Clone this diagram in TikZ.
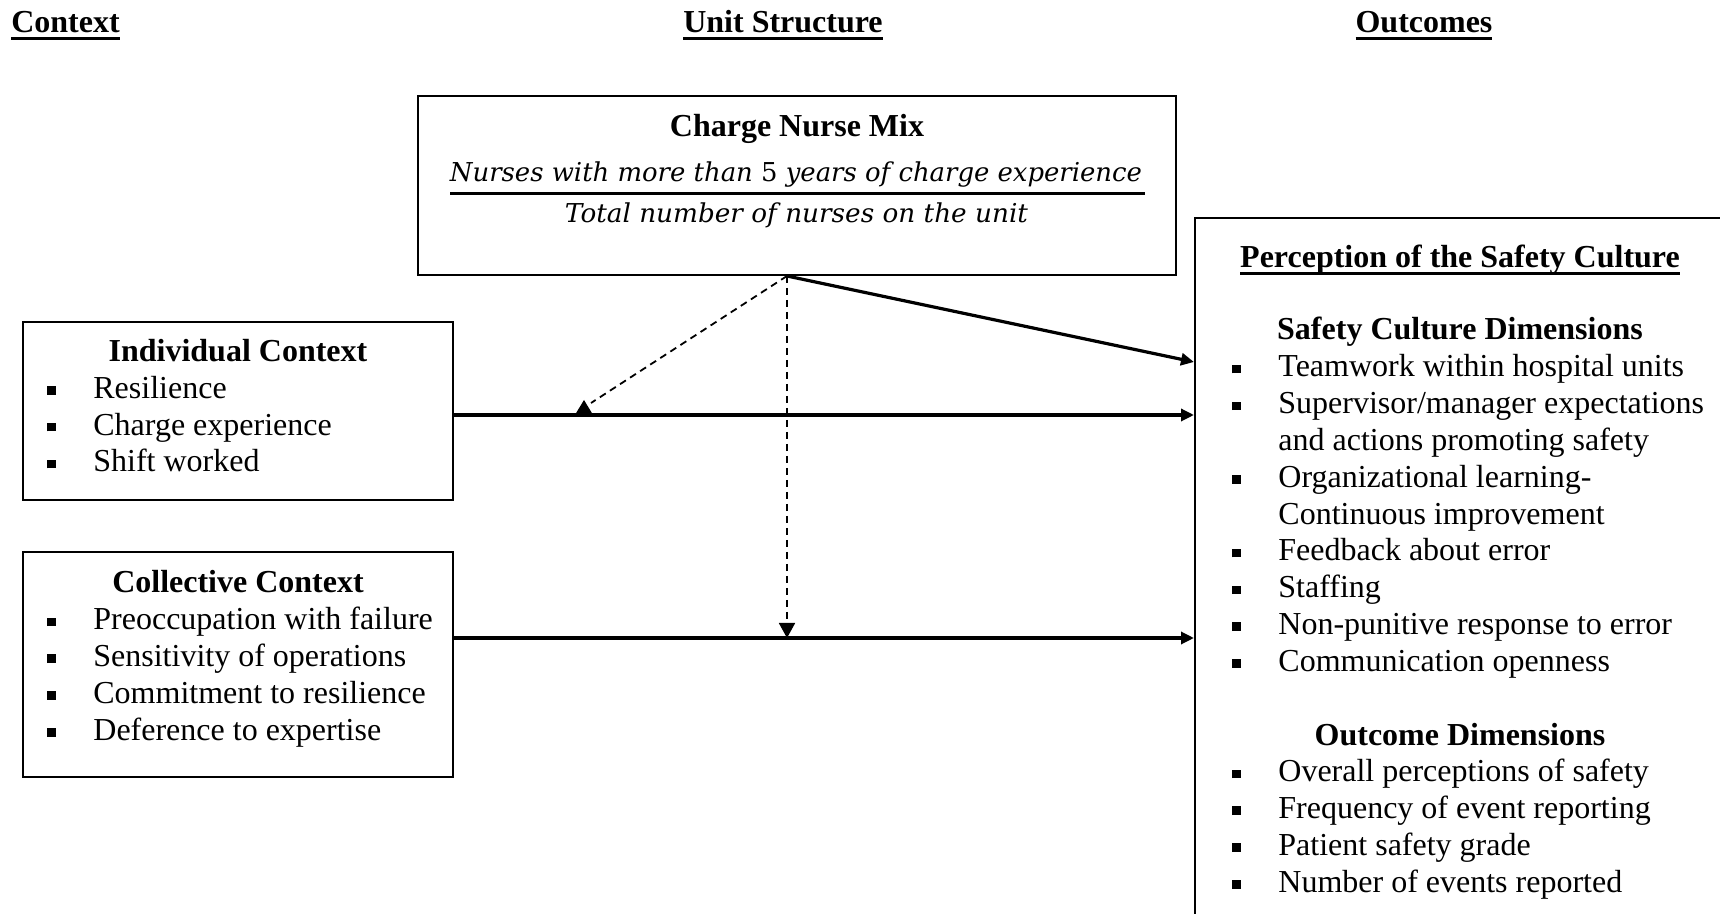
\documentclass[tikz,border=0pt]{standalone}
\usepackage{fontspec}
\setmainfont{Liberation Serif}
\newfontfamily\fracfont{DejaVu Serif}
\usetikzlibrary{arrows.meta,calc}

\newlength\px
\setlength\px{0.5pt}
\newsavebox\ulbox
% bold text with a heavy underline that ignores descenders
\newcommand\ulbold[1]{\sbox\ulbox{\bfseries #1}\rlap{\rule[-3.4pt]{\wd\ulbox}{1.5pt}}\usebox\ulbox}
% square bullet followed by the hanging indent
\newcommand\bul{\rule[1.8pt]{4.3pt}{4.3pt}\hspace{18.7pt}}
% italic fraction text, set to a given width
\newcommand\fractext[2]{\resizebox{#1}{\height}{\fracfont\fontsize{13}{15}\selectfont\itshape #2}}

\tikzset{
  box/.style={draw, line width=1pt, inner sep=0},
  txt/.style={inner sep=0, font=\fontsize{16}{18.4}\selectfont},
  item/.style={txt, anchor=base west},
  head/.style={inner sep=0, anchor=base, font=\fontsize{16}{18.4}\selectfont\bfseries},
  link/.style={line width=1.6pt, -{Triangle[length=6.5pt,width=6pt]}},
  mod/.style={line width=0.9pt, dash pattern=on 3.5pt off 2.5pt},
}

\begin{document}
\begin{tikzpicture}[x=0.5pt,y=-0.5pt]
\useasboundingbox (0,0) rectangle (1720,914);

% column headers
\node[head] (hctx) at (65.5,33) {\ulbold{Context}};
\node[head] (hunit) at (783,33) {\ulbold{Unit Structure}};
\node[head] (hout) at (1424,33) {\ulbold{Outcomes}};

% charge nurse mix
\node[box, minimum width=758\px, minimum height=179\px] (cn) at (797,185.5) {};
\node[head] (cnt) at (797,137) {Charge Nurse Mix};
\node[txt, anchor=base] (num) at (796,182)
  {\fractext{346pt}{Nurses with more than {\upshape 5} years of charge experience}};
\draw[line width=1.5pt] (450,194) -- (1145,194);
\node[txt, anchor=base] (den) at (796.5,223)
  {\fractext{231.5pt}{Total number of nurses on the unit}};

% individual context
\node[box, minimum width=430\px, minimum height=178\px] (ind) at (238,411) {};
\node[head] (indh) at (238,361.5) {Individual Context};
\node[item] (i1) at (47,398.3) {\bul Resilience};
\node[item] (i2) at (47,435.1) {\bul Charge experience};
\node[item] (i3) at (47,471.9) {\bul Shift worked};

% collective context
\node[box, minimum width=430\px, minimum height=225\px] (col) at (238,664.5) {};
\node[head] (colh) at (238,593) {Collective Context};
\node[item] (c1) at (47,629.8) {\bul Preoccupation with failure};
\node[item] (c2) at (47,666.6) {\bul Sensitivity of operations};
\node[item] (c3) at (47,703.4) {\bul Commitment to resilience};
\node[item] (c4) at (47,740.2) {\bul Deference to expertise};

% perception of the safety culture (runs off the page)
\begin{scope}
\clip (0,0) rectangle (1720,914);
\node[box, minimum width=565\px, minimum height=742\px] (psc) at (1477.5,589) {};
\end{scope}
\node[head] (pt) at (1460,268) {\ulbold{Perception of the Safety Culture}};
\node[head] (sd) at (1460,340) {Safety Culture Dimensions};
\node[item] (s1) at (1232,377) {\bul Teamwork within hospital units};
\node[item] (s2) at (1232,413.8) {\bul Supervisor/manager expectations};
\node[item] (s2b) at (1278,450.6) {and actions promoting safety};
\node[item] (s3) at (1232,487.4) {\bul Organizational learning-};
\node[item] (s3b) at (1278,524.2) {Continuous improvement};
\node[item] (s4) at (1232,561) {\bul Feedback about error};
\node[item] (s5) at (1232,597.8) {\bul Staffing};
\node[item] (s6) at (1232,634.6) {\bul Non-punitive response to error};
\node[item] (s7) at (1232,671.4) {\bul Communication openness};
\node[head] (od) at (1460,745) {Outcome Dimensions};
\node[item] (o1) at (1232,781.8) {\bul Overall perceptions of safety};
\node[item] (o2) at (1232,818.6) {\bul Frequency of event reporting};
\node[item] (o3) at (1232,855.4) {\bul Patient safety grade};
\node[item] (o4) at (1232,892.2) {\bul Number of events reported};

% connectors
\coordinate (cnout) at ($(cn.south)+(-10,0)$);
\coordinate (indout) at ($(ind.east)+(0,4)$);
\coordinate (colout) at ($(col.east)+(0,-26.5)$);
\coordinate (in1) at ($(psc.north west)+(0,145)$);
\coordinate (mod1) at ($(indout)+(130,0)$);

\draw[link] (cnout) -- (in1);
\draw[link] (indout) -- (indout -| psc.west);
\draw[link] (colout) -- (colout -| psc.west);
\draw[mod, -{Triangle[length=7.5pt,width=8pt]}] (cnout) -- (cnout |- colout);
\draw[mod] (cnout) -- ($(mod1)+(7,-12)$);
\fill ($(mod1)+(-8.5,-1)$) -- ($(mod1)+(0,-15)$) -- ($(mod1)+(8.5,-1)$) -- cycle;
\end{tikzpicture}
\end{document}
